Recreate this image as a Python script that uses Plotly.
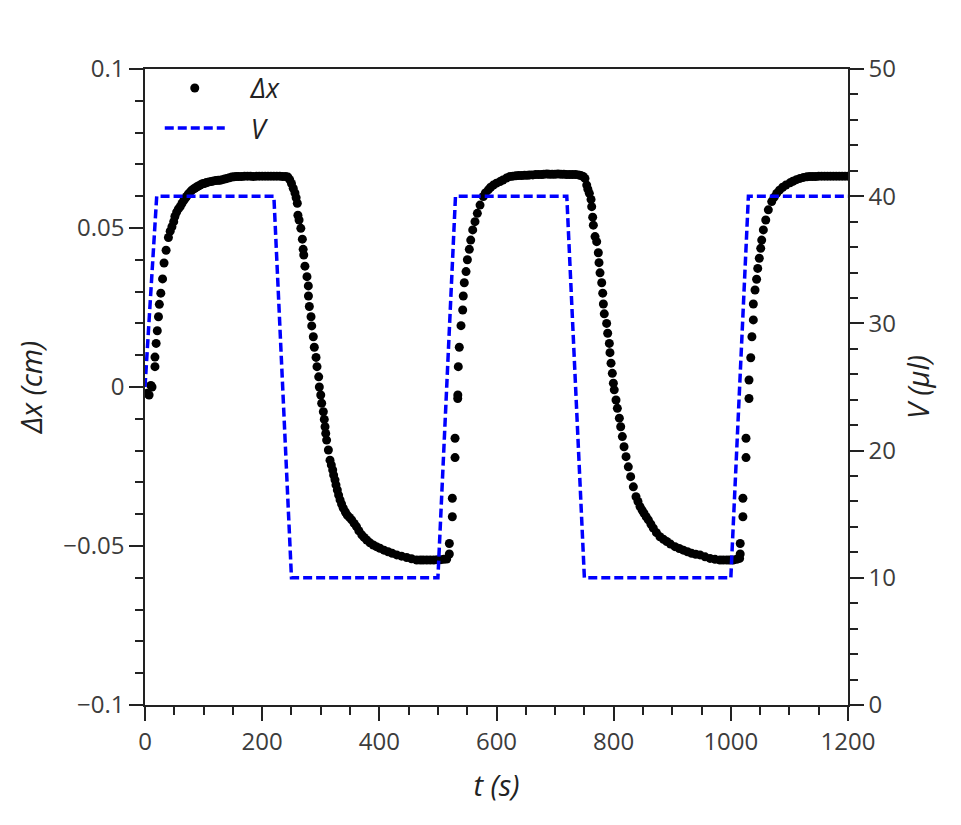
import plotly.graph_objects as go

# ---- data ----
t_dx = [3, 7, 10, 12, 17, 17, 19, 21, 23, 24.5, 27, 30, 32.5, 36, 40, 43, 46, 49, 51, 54, 57, 60, 63, 66, 69, 71, 74, 77,
        80, 83, 85, 88, 91, 94, 97, 100, 103, 105, 109, 113, 117, 121, 125, 128, 132, 136, 140, 144, 148, 152, 156,
        160, 165, 170, 175, 180, 185, 190, 195, 200, 205, 210, 215, 220, 225, 230, 235, 240, 244,
        247, 250, 253, 256, 258, 260, 261, 263, 266, 268.6, 270, 271, 273, 276.5, 278.8, 279, 280.5, 283.4, 284.6,
        287.3, 289, 292, 293.6, 296.5, 297.6, 300, 301.6, 304.4, 306, 307.3, 308.5, 310, 313, 315.8, 318, 320.4, 322,
        324.3, 326, 328.3, 330.5, 333, 335.5, 338.5, 342, 345.3, 349, 352.8, 357, 361, 365, 370, 374, 378.5, 384,
        389.7, 395, 401, 408, 415, 422, 429.7, 438, 446.7, 455, 463.8, 470, 475, 481, 487, 493, 499, 505, 510, 515,
        519.5, 519.5, 524.6, 524.6, 529.2, 529.2, 533.8, 534, 534.8, 536.5, 539.4, 542.3, 543.3, 545, 548, 550.3,
        553.6, 556, 559.4, 563.3, 567.3, 571.9, 577.5, 581, 586, 590, 594.6, 600, 606, 611, 617, 623, 628, 633, 638,
        643, 648, 653, 657, 662, 667, 672, 677, 681, 686, 690, 695, 700, 705, 710, 715, 720, 725, 730, 735, 740, 744,
        748, 751,
        754, 756, 758.5, 761.4, 762.5, 764.2, 765.3, 768.2, 771, 773.8, 775, 776.7, 779.6, 781.3, 782.4, 784, 788,
        789.8, 792.6, 793.7, 795.5, 797.7, 799.5, 801, 804, 806.3, 809.7, 812, 814.8, 817.7, 821.1, 825, 829, 833.6,
        838.1, 841.5, 845, 848.5, 851.8, 855.5, 859.2, 863.5, 867.7, 873, 879, 885, 890.6, 897, 904.7, 912, 919, 926,
        933, 940, 947.4, 956, 964.5, 973, 981.5, 987, 993, 998, 1004, 1010, 1015,
        1016, 1016, 1020.6, 1020.6, 1025.9, 1025.9, 1031, 1031, 1034, 1036, 1038.4, 1038.4, 1041.3, 1044, 1045.9,
        1048.6, 1051, 1052.7, 1055.5, 1059.6, 1064, 1069.8, 1074, 1078.3, 1083, 1088.5, 1094, 1101, 1106, 1112, 1118,
        1124, 1130, 1135, 1140, 1145, 1150, 1155, 1160, 1165, 1170, 1175, 1180, 1185, 1190, 1195, 1200]

dx = [-0.002, -0.0025, 0.0005, 0.0, 0.0064, 0.0094, 0.0137, 0.0177, 0.0221, 0.026, 0.0295, 0.034, 0.039, 0.043, 0.047,
      0.049, 0.0504, 0.052, 0.0536, 0.055, 0.056, 0.0567, 0.0577, 0.0586, 0.0594, 0.0599, 0.0607, 0.0613,
      0.0619, 0.0623, 0.0625, 0.0629, 0.0632, 0.0635, 0.0638, 0.064, 0.0641, 0.0643, 0.0645, 0.0646, 0.0648, 0.0649,
      0.065, 0.065, 0.0652, 0.0654, 0.0656, 0.0658, 0.066, 0.0661, 0.0662,
      0.0662, 0.0662, 0.0663, 0.0663, 0.0663, 0.0662, 0.0663, 0.0663, 0.0663, 0.0663, 0.0663, 0.0663, 0.0663, 0.0663,
      0.0663, 0.0662, 0.0662, 0.066,
      0.0652, 0.064, 0.0625, 0.061, 0.0595, 0.0578, 0.054, 0.0525, 0.0499, 0.0465, 0.0433, 0.0415, 0.038, 0.0347,
      0.0318, 0.0286, 0.0253, 0.0221, 0.0192, 0.0158, 0.0125, 0.0093, 0.0064, 0.0032, 0.0, -0.0025, -0.0051, -0.0078,
      -0.0102, -0.0125, -0.0146, -0.0167, -0.0198, -0.023, -0.0245, -0.0261, -0.0277, -0.0292, -0.0308, -0.0324,
      -0.034, -0.0355, -0.0368, -0.0381, -0.0393, -0.0403, -0.041, -0.0418, -0.0429, -0.0439, -0.0452, -0.0465,
      -0.0473, -0.0481, -0.049, -0.0497, -0.0502, -0.0507, -0.0513, -0.0518, -0.0523, -0.0528, -0.0532, -0.0536,
      -0.054, -0.0544, -0.0544, -0.0544, -0.0544, -0.0544, -0.0544, -0.0543, -0.0543, -0.0542, -0.0541,
      -0.0525, -0.0492, -0.0408, -0.035, -0.0222, -0.0161, -0.0036, -0.0025, 0.0064, 0.0125, 0.0193, 0.0242, 0.0286,
      0.0328, 0.0363, 0.04, 0.0433, 0.0462, 0.0494, 0.052, 0.0546, 0.0572, 0.0599, 0.061, 0.062, 0.0628, 0.0635,
      0.0641, 0.0646, 0.0651, 0.0657, 0.0662, 0.0663, 0.0664, 0.0665, 0.0665, 0.0666, 0.0666, 0.0667, 0.0667, 0.0668,
      0.0668, 0.0668, 0.0669, 0.067, 0.0669, 0.0669, 0.0669, 0.067, 0.0669, 0.0669, 0.0668, 0.0668, 0.0668, 0.0668,
      0.0667, 0.0665, 0.0662, 0.0656,
      0.0635, 0.0622, 0.0609, 0.059, 0.0567, 0.0534, 0.0509, 0.0473, 0.0457, 0.0422, 0.0391, 0.0359, 0.0328, 0.0295,
      0.0261, 0.023, 0.02, 0.0169, 0.0137, 0.0108, 0.0075, 0.0043, 0.0012, -0.0009, -0.0041, -0.0067, -0.0098,
      -0.0125, -0.0156, -0.0188, -0.0219, -0.0251, -0.0282, -0.0314, -0.0345, -0.036, -0.0376, -0.0387, -0.0397,
      -0.0408, -0.0418, -0.0431, -0.0444, -0.0458, -0.0471, -0.0479, -0.0486, -0.0494, -0.0502, -0.0508, -0.0513,
      -0.0518, -0.0523, -0.0526, -0.0528, -0.0534, -0.0539, -0.0542, -0.0544, -0.0544, -0.0544, -0.0544, -0.0544,
      -0.0542, -0.0539,
      -0.0525, -0.0492, -0.0408, -0.035, -0.0222, -0.0161, -0.0036, 0.0022, 0.0092, 0.0158, 0.0211, 0.0261, 0.0305,
      0.0339, 0.0373, 0.0405, 0.0436, 0.0462, 0.0494, 0.0525, 0.0557, 0.0583, 0.0597, 0.0609, 0.0619, 0.0628,
      0.0635, 0.0642, 0.0647, 0.0652, 0.0656, 0.0659, 0.0661, 0.0662, 0.0662, 0.0662, 0.0663, 0.0663, 0.0663,
      0.0663, 0.0663, 0.0663, 0.0663, 0.0663, 0.0663, 0.0663, 0.0663]

t_v = [0, 20, 220, 250, 500, 530, 720, 750, 1000, 1030, 1200]
v = [25, 40, 40, 10, 10, 40, 40, 10, 10, 40, 40]

x_ticks = [0, 200, 400, 600, 800, 1000, 1200]
y1_ticks = [-0.1, -0.05, 0, 0.05, 0.1]
y1_labels = ["\u22120.1", "\u22120.05", "0", "0.05", "0.1"]
y2_ticks = [0, 10, 20, 30, 40, 50]

FONT = "Open Sans, sans-serif"
TICKFONT = dict(family=FONT, size=24, color="#3c3c3c")
TITLEFONT = dict(family=FONT, size=29, color="#222222", style="italic")
AX = "#222222"
NB = "\u00a0\u00a0\u00a0"

fig = go.Figure()
fig.add_trace(go.Scatter(x=t_dx, y=dx, mode="markers", name=NB + "\u0394x", legendgroup="a",
                         marker=dict(color="black", size=9, line=dict(width=0)), yaxis="y"))
fig.add_trace(go.Scatter(x=t_v, y=v, mode="lines", name=NB + "V", legendgroup="b",
                         line=dict(color="#0000ff", width=3.5, dash="9px,4px"), yaxis="y2"))

common = dict(showgrid=False, zeroline=False, showline=True, linecolor=AX, linewidth=1.5,
              ticks="outside", ticklen=14, tickwidth=1.5, tickcolor=AX, tickfont=TICKFONT)

fig.update_layout(
    width=961, height=825,
    margin=dict(l=145, r=113, t=69, b=120),
    plot_bgcolor="white", paper_bgcolor="white",
    showlegend=True,
    legend=dict(x=0.021, y=1.008, xanchor="left", yanchor="top", bgcolor="rgba(0,0,0,0)",
                font=dict(family=FONT, size=27, color="#222222", style="italic"),
                itemwidth=60, tracegroupgap=2),
    xaxis=dict(range=[0, 1200], tickvals=x_ticks, mirror=True,
               minor=dict(dtick=50, ticklen=8, ticks="outside", tickwidth=1.5, tickcolor=AX),
               title=dict(text="t (s)", font=TITLEFONT, standoff=20), **common),
    yaxis=dict(range=[-0.1, 0.1], tickvals=y1_ticks, ticktext=y1_labels,
               minor=dict(dtick=0.01, ticklen=8, ticks="outside", tickwidth=1.5, tickcolor=AX),
               title=dict(text="\u0394x (cm)", font=TITLEFONT, standoff=12), **common),
    yaxis2=dict(range=[0, 50], tickvals=y2_ticks, overlaying="y", side="right",
                minor=dict(dtick=2, ticklen=8, ticks="outside", tickwidth=1.5, tickcolor=AX),
                title=dict(text="V (\u03bcl)", font=TITLEFONT, standoff=14), **common),
)

fig.write_html("out.html")
